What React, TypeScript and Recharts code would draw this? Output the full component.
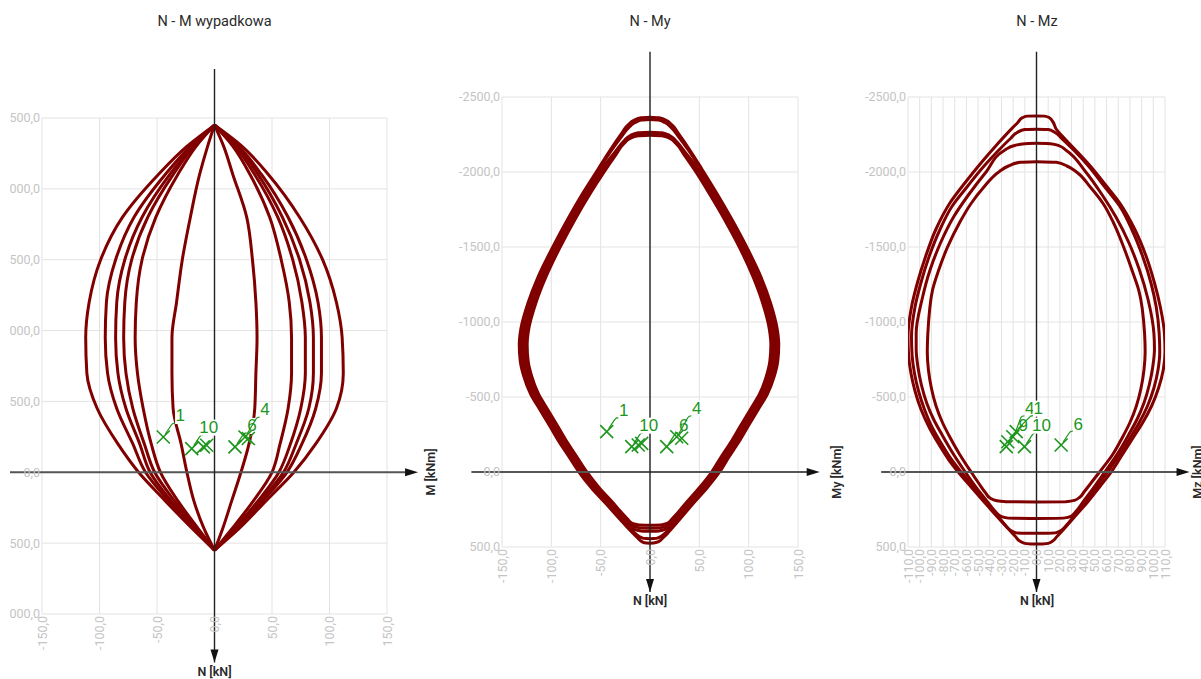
import React from "react";
import {
  ComposedChart,
  Line,
  Scatter,
  XAxis,
  YAxis,
  CartesianGrid,
  ReferenceLine,
  ReferenceDot,
} from "recharts";

// Colours.
const CURVE = "#800000";
const MARK = "#1c961c";
const TICK = "#c4c4c4";
const GRID = "#e3e3e3";

// ---- axis ticks ----
const M_TICKS = [-150, -100, -50, 0, 50, 100, 150];
const MZ_TICKS = [-110, -100, -90, -80, -70, -60, -50, -40, -30, -20, -10, 0, 10, 20, 30, 40, 50, 60, 70, 80, 90, 100, 110];
const N_TICKS_RES = [-2500, -2000, -1500, -1000, -500, 0, 500, 1000];
const N_TICKS = [-2500, -2000, -1500, -1000, -500, 0, 500];

// ---- N - M wypadkowa: arcs between the two apexes, sampled at shared N levels ----
const RES_N = [-2450, -2300, -2100, -1800, -1500, -1200, -950, -700, -450, -200, 0, 200, 400, 550];
const RES_LEFT = [
  [0, -24, -49, -80, -99, -109, -112, -111, -102, -84, -66, -43, -19, 0],
  [0, -21, -43, -70, -86, -94, -95, -93, -85, -71, -60, -40, -17, 0],
  [0, -19, -39, -63, -78, -85, -86, -84, -77, -65, -56, -38, -16, 0],
  [0, -18, -36, -58, -72, -78, -79, -77, -71, -61, -52, -35, -15, 0],
  [0, -16, -32, -51, -63, -68, -69, -67, -62, -55, -47, -32, -14, 0],
  [0, -6, -13, -21, -28, -33, -37, -37, -36, -29, -24, -18, -9, 0],
];
const RES_RIGHT = [
  [0, 24, 47, 74, 94, 106, 111, 112, 106, 88, 69, 45, 21, 0],
  [0, 21, 41, 64, 80, 90, 93, 93, 88, 76, 63, 42, 19, 0],
  [0, 20, 38, 59, 74, 83, 86, 86, 82, 71, 60, 40, 18, 0],
  [0, 18, 35, 55, 68, 76, 79, 79, 75, 66, 56, 38, 17, 0],
  [0, 16, 31, 48, 58, 65, 67, 67, 64, 57, 50, 34, 15, 0],
  [0, 8, 16, 28, 33, 36, 37, 36, 35, 30, 23, 15, 7, 0],
];
const RES_POINTS: [number, number, string][] = [
  [-44.5, -249, "1"], [-19.8, -167, "10"], [-9.7, -179, ""], [-6.8, -191, ""],
  [17.8, -179, "6"], [26.5, -249, "4"], [29.4, -238, ""],
];

// ---- N - My: [My, N] halves, top apex -> bottom ----
const MY_P_L = [[0,-2365],[-9,-2361],[-16,-2345],[-22,-2315],[-30,-2245],[-41,-2140],[-53,-2015],[-68,-1860],[-83,-1690],[-98.5,-1500],[-113.5,-1300],[-123.5,-1130],[-131,-950],[-132.5,-850],[-131.5,-740],[-128,-640],[-121,-520],[-112,-420],[-101,-300],[-92,-200],[-82,-100],[-72,0],[-59.5,105],[-45,209],[-27,340],[-18.5,400],[-12.5,440],[-8,465],[-3.5,474],[0,475]];
const MY_P_R = [[0,-2365],[9,-2361],[16,-2345],[22,-2315],[30,-2245],[41,-2140],[53,-2015],[67.5,-1860],[82.5,-1690],[98,-1500],[112.5,-1300],[122,-1130],[129,-950],[130.5,-850],[129.5,-740],[126,-640],[119,-520],[110,-420],[99,-300],[90,-200],[80,-100],[70.5,0],[58,105],[44,209],[27,340],[19,400],[13,440],[8.5,465],[3.5,474],[0,475]];
const MY_Q_L = [[0,-2350],[-9,-2346],[-15,-2330],[-21,-2300],[-29,-2235],[-40,-2135],[-52,-2012],[-66.5,-1858],[-81.5,-1690],[-96.5,-1500],[-111.5,-1300],[-121.5,-1130],[-129,-950],[-130.5,-850],[-129.5,-740],[-126,-640],[-119,-520],[-110,-420],[-99,-300],[-90,-200],[-80,-100],[-70,0],[-57.5,105],[-43,209],[-25,340],[-18.5,385],[-14,415],[-8.5,438],[-4,444],[0,445]];
const MY_Q_R = [[0,-2350],[9,-2346],[15,-2330],[21,-2300],[29,-2235],[40,-2135],[52,-2012],[66,-1858],[81,-1690],[96,-1500],[110.5,-1300],[120,-1130],[127,-950],[128.5,-850],[127.5,-740],[124,-640],[117,-520],[108,-420],[97,-300],[88,-200],[78,-100],[68.5,0],[56,105],[42,209],[25,340],[18.5,385],[14,415],[8.5,438],[4,444],[0,445]];
const MY_R_L = [[0,-2265],[-12,-2261],[-20,-2243],[-26,-2210],[-37,-2120],[-51,-2005],[-65,-1856],[-80,-1688],[-95,-1500],[-109.5,-1300],[-119.5,-1130],[-127,-950],[-128.5,-850],[-127.5,-740],[-124,-640],[-117,-520],[-108,-420],[-97,-300],[-88,-200],[-78,-100],[-68,0],[-55.5,105],[-41,209],[-26,320],[-20.5,357],[-16,382],[-9,393],[0,395]];
const MY_R_R = [[0,-2265],[12,-2261],[20,-2243],[26,-2210],[37,-2120],[51,-2005],[64.5,-1856],[79.5,-1688],[94.5,-1500],[108.5,-1300],[118,-1130],[125,-950],[126.5,-850],[125.5,-740],[122,-640],[115,-520],[106,-420],[95,-300],[86,-200],[76,-100],[66.5,0],[54,105],[40,209],[25,320],[20,357],[15.5,382],[9,393],[0,395]];
const MY_S_L = [[0,-2255],[-12,-2251],[-20,-2233],[-26,-2200],[-36,-2115],[-49,-2000],[-63,-1854],[-78,-1686],[-93,-1500],[-107.5,-1300],[-117.5,-1130],[-125,-950],[-126.5,-850],[-125.5,-740],[-122,-640],[-115,-520],[-106,-420],[-95,-300],[-86,-200],[-76,-100],[-66,0],[-53.5,105],[-39,209],[-27,300],[-22,333],[-17.5,360],[-10,372.5],[0,375]];
const MY_S_R = [[0,-2255],[12,-2251],[20,-2233],[26,-2200],[36,-2115],[49,-2000],[62.5,-1854],[77.5,-1686],[92.5,-1500],[106.5,-1300],[116,-1130],[123,-950],[124.5,-850],[123.5,-740],[120,-640],[113,-520],[104,-420],[93,-300],[84,-200],[74,-100],[64.5,0],[52,105],[38,209],[26,300],[21.5,333],[17,360],[10,372.5],[0,375]];
const MY_T_L = [[0,-2245],[-12,-2241],[-20,-2224],[-26,-2192],[-35,-2110],[-47,-1995],[-61,-1852],[-76,-1684],[-91,-1500],[-105.5,-1300],[-115.5,-1130],[-123,-950],[-124.5,-850],[-123.5,-740],[-120,-640],[-113,-520],[-104,-420],[-93,-300],[-84,-200],[-74,-100],[-64,0],[-51.5,105],[-37,209],[-27.5,280],[-22.5,315],[-18,342],[-11,353],[0,355]];
const MY_T_R = [[0,-2245],[12,-2241],[20,-2224],[26,-2192],[35,-2110],[47,-1995],[60.5,-1852],[75.5,-1684],[90.5,-1500],[104.5,-1300],[114,-1130],[121,-950],[122.5,-850],[121.5,-740],[118,-640],[111,-520],[102,-420],[91,-300],[82,-200],[72,-100],[62.5,0],[50,105],[36,209],[27,280],[22,315],[17.5,342],[11,353],[0,355]];
const MY_POINTS: [number, number, string][] = [
  [-43.9, -269, "1"], [-18.5, -169, "10"], [-11.9, -180, ""], [-8.4, -191, ""],
  [16.9, -169, "6"], [27.1, -235, "4"], [32.1, -225, ""],
];

// ---- N - Mz: [Mz, N] halves ----
const MZ_A_L = [[0,-2373],[-8,-2372.5],[-12,-2362],[-16,-2330],[-21,-2291],[-33,-2190],[-47,-2065],[-61,-1930],[-74,-1795],[-86,-1620],[-95,-1435],[-102,-1260],[-107,-1100],[-110,-900],[-109.5,-780],[-107.5,-660],[-104,-540],[-99,-420],[-92,-300],[-84,-190],[-75,-80],[-67,0],[-56,100],[-45,198],[-34,295],[-24,380],[-18,430],[-14,462],[-10,476],[-5,479.5],[0,480]];
const MZ_A_R = [[0,-2373],[7,-2372.5],[11,-2362],[14,-2335],[17,-2285],[23,-2232],[33,-2150],[46,-2040],[59,-1915],[72,-1785],[84,-1620],[94,-1435],[101,-1260],[106,-1100],[109.5,-926],[110,-800],[108.5,-680],[104.5,-560],[98.5,-440],[91,-330],[82,-220],[73,-110],[64,0],[54,100],[44,198],[33,295],[23.5,380],[17.5,430],[13.5,462],[10,476],[5,479.5],[0,480]];
const MZ_B_L = [[0,-2285],[-10,-2283],[-16,-2266],[-22,-2225],[-33,-2140],[-46,-2030],[-59,-1905],[-72,-1775],[-83,-1610],[-92,-1435],[-99,-1260],[-104,-1100],[-107,-900],[-106.5,-780],[-104.5,-660],[-101,-540],[-96,-420],[-89.5,-300],[-81.5,-190],[-72.5,-80],[-64.5,0],[-54,100],[-43.5,198],[-33,295],[-26,360],[-22,390],[-18,404],[-10,408.5],[0,409]];
const MZ_B_R = [[0,-2285],[10,-2283],[15,-2268],[21,-2228],[32,-2145],[45,-2035],[58,-1905],[71,-1775],[82,-1610],[91,-1435],[98,-1260],[102.5,-1100],[105,-926],[105.5,-800],[104,-680],[100.5,-560],[95,-440],[88,-330],[79.5,-220],[70.5,-110],[61,0],[51.5,100],[42,198],[32,295],[25,360],[21,390],[17,404],[9,408.5],[0,409]];
const MZ_C_L = [[0,-2191],[-10,-2189],[-18,-2178],[-27,-2147],[-43,-2002],[-58,-1850],[-71,-1700],[-82,-1530],[-91,-1350],[-98,-1150],[-103,-926],[-103,-820],[-101.5,-700],[-98.5,-580],[-94,-460],[-88,-350],[-81,-250],[-72,-130],[-61,0],[-51,110],[-42,198],[-35,265],[-30.5,296],[-24,307.5],[0,310]];
const MZ_C_R = [[0,-2191],[12,-2189],[19,-2176],[25,-2147],[42,-2002],[56,-1850],[68,-1700],[79,-1530],[88,-1350],[95.5,-1150],[100.5,-926],[101,-820],[99.5,-700],[96.5,-580],[92,-460],[86,-350],[79,-250],[70,-130],[58.5,0],[48.5,110],[40,198],[33.5,265],[29.5,296],[23,307.5],[0,310]];
const MZ_D_L = [[0,-2069],[-14,-2065],[-24,-2040],[-32,-2002],[-45,-1900],[-56,-1790],[-66,-1660],[-76,-1502],[-84,-1340],[-89,-1213],[-93,-926],[-93.5,-800],[-92.5,-680],[-90,-560],[-86,-440],[-80.5,-330],[-74,-230],[-66,-120],[-56,0],[-49,80],[-43.5,140],[-39.5,175],[-34,192],[-26,198.5],[0,199.5]];
const MZ_D_R = [[0,-2069],[17,-2065],[26,-2040],[34,-2002],[46,-1900],[57,-1790],[66,-1660],[74.5,-1502],[82,-1340],[87.5,-1213],[92.5,-926],[93,-800],[92,-680],[89.5,-560],[85.5,-440],[80,-330],[73.5,-230],[65.5,-120],[54,0],[46.5,75],[41,130],[37,168],[32.5,189],[25,198],[0,199.5]];
const MZ_POINTS: [number, number, string][] = [
  [-24.6, -202, ""], [-25.9, -169, "9"], [-20.3, -235, "4"], [-17.4, -269, "1"],
  [-10.3, -169, "10"], [21.1, -180, "6"],
];

const fmt = (v: number) => v.toFixed(1).replace(".", ",");
const toPts = (arr: number[][]) => arr.map(([m, n]) => ({ m, n }));
const toMarks = (arr: [number, number, string][]) => arr.map(([m, n, label]) => ({ m, n, label }));

const resCurves = [...RES_LEFT, ...RES_RIGHT].map((arc) => arc.map((m, k) => ({ m, n: RES_N[k] })));
const myCurves = [MY_P_L, MY_P_R, MY_Q_L, MY_Q_R, MY_R_L, MY_R_R, MY_S_L, MY_S_R, MY_T_L, MY_T_R].map(toPts);
const mzCurves = [MZ_A_L, MZ_A_R, MZ_B_L, MZ_B_R, MZ_C_L, MZ_C_R, MZ_D_L, MZ_D_R].map(toPts);

// label placement next to each load point (leader goes up-right)
function makeMarker(nudge: Record<string, [number, number]>) {
  return (props: any) => {
    const { cx, cy, payload } = props;
    if (cx == null || cy == null) return <g />;
    const label: string = payload?.label ?? "";
    const [dx, dy] = nudge[label] ?? [17, -21];
    const w = label.length * 9.5 + 1;
    return (
      <g>
        <line x1={cx - 6.5} y1={cy - 6.5} x2={cx + 6.5} y2={cy + 6.5} stroke={MARK} strokeWidth={1.6} />
        <line x1={cx - 6.5} y1={cy + 6.5} x2={cx + 6.5} y2={cy - 6.5} stroke={MARK} strokeWidth={1.6} />
        {label && (
          <g>
            <path
              d={`M${cx + 2},${cy - 3} L${cx + dx - 9},${cy + dy + 9} Q${cx + dx - 8},${cy + dy + 7} ${cx + dx - 5},${cy + dy + 7}`}
              stroke={MARK}
              strokeWidth={1.2}
              fill="none"
            />
            <rect x={cx + dx - w / 2} y={cy + dy - 8} width={w} height={16} fill="#fff" />
            <text
              x={cx + dx}
              y={cy + dy}
              textAnchor="middle"
              dominantBaseline="central"
              fontSize={17}
              fontFamily="'Liberation Sans', Arial, sans-serif"
              fill={MARK}
            >
              {label}
            </text>
          </g>
        )}
      </g>
    );
  };
}

const ArrowDown = (p: any) => (
  <polygon points={`${p.cx},${p.cy} ${p.cx - 4},${p.cy - 13} ${p.cx + 4},${p.cy - 13}`} fill="#111" />
);
const ArrowRight = (p: any) => (
  <polygon points={`${p.cx},${p.cy} ${p.cx - 13},${p.cy - 4} ${p.cx - 13},${p.cy + 4}`} fill="#111" />
);

const RotTick = (p: any) => {
  const x = p.x + 4.5;
  const y = p.y;
  return (
    <text x={x} y={y} transform={`rotate(-90 ${x} ${y})`} textAnchor="end" fill={TICK} fontSize={12.5}>
      {fmt(p.payload.value)}
    </text>
  );
};

type PanelProps = {
  width: number;
  margin: { top: number; right: number; bottom: number; left: number };
  yWidth: number;
  xDomain: [number, number];
  xTicks: number[];
  nDomain: [number, number];
  nTicks: number[];
  curves: { m: number; n: number }[][];
  marks: { m: number; n: number; label: string }[];
  nudge: Record<string, [number, number]>;
  hAxis: [number, number];
  vAxis: [number, number];
};

function Panel(p: PanelProps) {
  return (
    <ComposedChart width={p.width} height={679} margin={p.margin}>
      <CartesianGrid stroke={GRID} strokeWidth={1} />
      <XAxis
        type="number"
        dataKey="m"
        domain={p.xDomain}
        ticks={p.xTicks}
        interval={0}
        allowDataOverflow
        axisLine={false}
        tickLine={false}
        tickSize={0}
        height={40}
        tick={<RotTick />}
      />
      <YAxis
        type="number"
        dataKey="n"
        domain={p.nDomain}
        ticks={p.nTicks}
        interval={0}
        reversed
        allowDataOverflow
        axisLine={false}
        tickLine={false}
        tickSize={0}
        tickMargin={2}
        width={p.yWidth}
        tick={{ fill: TICK, fontSize: 12.5 }}
        tickFormatter={fmt}
      />
      {p.curves.map((c, i) => (
        <Line
          key={i}
          data={c}
          dataKey="n"
          type="monotoneY"
          stroke={CURVE}
          strokeWidth={3}
          dot={false}
          activeDot={false}
          isAnimationActive={false}
        />
      ))}
      <ReferenceLine segment={[{ x: p.hAxis[0], y: 0 }, { x: p.hAxis[1] - 8, y: 0 }]} stroke="#555" strokeWidth={2} ifOverflow="visible" />
      <ReferenceLine segment={[{ x: 0, y: p.vAxis[0] }, { x: 0, y: p.vAxis[1] }]} stroke="#222" strokeWidth={1.4} ifOverflow="visible" />
      <ReferenceDot x={p.hAxis[1]} y={0} r={1} shape={ArrowRight} ifOverflow="visible" />
      <ReferenceDot x={0} y={p.vAxis[1]} r={1} shape={ArrowDown} ifOverflow="visible" />
      <Scatter data={p.marks} shape={makeMarker(p.nudge)} isAnimationActive={false} />
    </ComposedChart>
  );
}

function Caption({ x, y, children, size = 14.5, weight = 400, rotate = false }: any) {
  return (
    <div
      style={{
        position: "absolute",
        left: x,
        top: y,
        whiteSpace: "nowrap",
        fontSize: size,
        fontWeight: weight,
        color: "#2a2a2a",
        transform: rotate ? "translate(-50%, -50%) rotate(-90deg)" : "translate(-50%, -50%)",
      }}
    >
      {children}
    </div>
  );
}

export default function App() {
  return (
    <div
      style={{
        position: "absolute",
        left: 0,
        top: 0,
        width: 1201,
        height: 679,
        overflow: "hidden",
        background: "#fff",
        fontFamily: "Roboto, 'Liberation Sans', Arial, sans-serif",
      }}
    >
      {/* N - M wypadkowa: clipped on the left like the original export */}
      <div style={{ position: "absolute", left: 10, top: 0, width: 430, height: 679, overflow: "hidden" }}>
        <div style={{ position: "absolute", left: -50, top: 0 }}>
          <Panel
            width={480}
            margin={{ top: 118, right: 53, bottom: 25, left: 0 }}
            yWidth={82}
            xDomain={[-150, 150]}
            xTicks={M_TICKS}
            nDomain={[-2500, 1000]}
            nTicks={N_TICKS_RES}
            curves={resCurves}
            marks={toMarks(RES_POINTS)}
            nudge={{ "4": [20, -27] }}
            hAxis={[-200, 177]}
            vAxis={[-2846, 1342]}
          />
        </div>
      </div>
      <div style={{ position: "absolute", left: 420, top: 0 }}>
        <Panel
          width={420}
          margin={{ top: 97, right: 42, bottom: 92, left: 0 }}
          yWidth={82}
          xDomain={[-150, 150]}
          xTicks={M_TICKS}
          nDomain={[-2500, 500]}
          nTicks={N_TICKS}
          curves={myCurves}
          marks={toMarks(MY_POINTS)}
          nudge={{ "4": [20, -28] }}
          hAxis={[-181, 172]}
          vAxis={[-2802, 800]}
        />
      </div>
      <div style={{ position: "absolute", left: 840, top: 0 }}>
        <Panel
          width={361}
          margin={{ top: 97, right: 36, bottom: 92, left: 0 }}
          yWidth={68}
          xDomain={[-110, 110]}
          xTicks={MZ_TICKS}
          nDomain={[-2500, 500]}
          nTicks={N_TICKS}
          curves={mzCurves}
          marks={toMarks(MZ_POINTS)}
          nudge={{ "4": [17, -28], "1": [22, -23] }}
          hAxis={[-133, 131]}
          vAxis={[-2802, 800]}
        />
      </div>

      <Caption x={214.5} y={21}>N - M wypadkowa</Caption>
      <Caption x={650} y={21}>N - My</Caption>
      <Caption x={1037} y={21}>N - Mz</Caption>

      <Caption x={214.5} y={671} size={12.5} weight={600}>N [kN]</Caption>
      <Caption x={650} y={600} size={12.5} weight={600}>N [kN]</Caption>
      <Caption x={1037} y={600} size={12.5} weight={600}>N [kN]</Caption>

      <Caption x={430} y={472} size={12.5} weight={600} rotate>M [kNm]</Caption>
      <Caption x={836} y={472} size={12.5} weight={600} rotate>My [kNm]</Caption>
      <Caption x={1197} y={472} size={12.5} weight={600} rotate>Mz [kNm]</Caption>
    </div>
  );
}
